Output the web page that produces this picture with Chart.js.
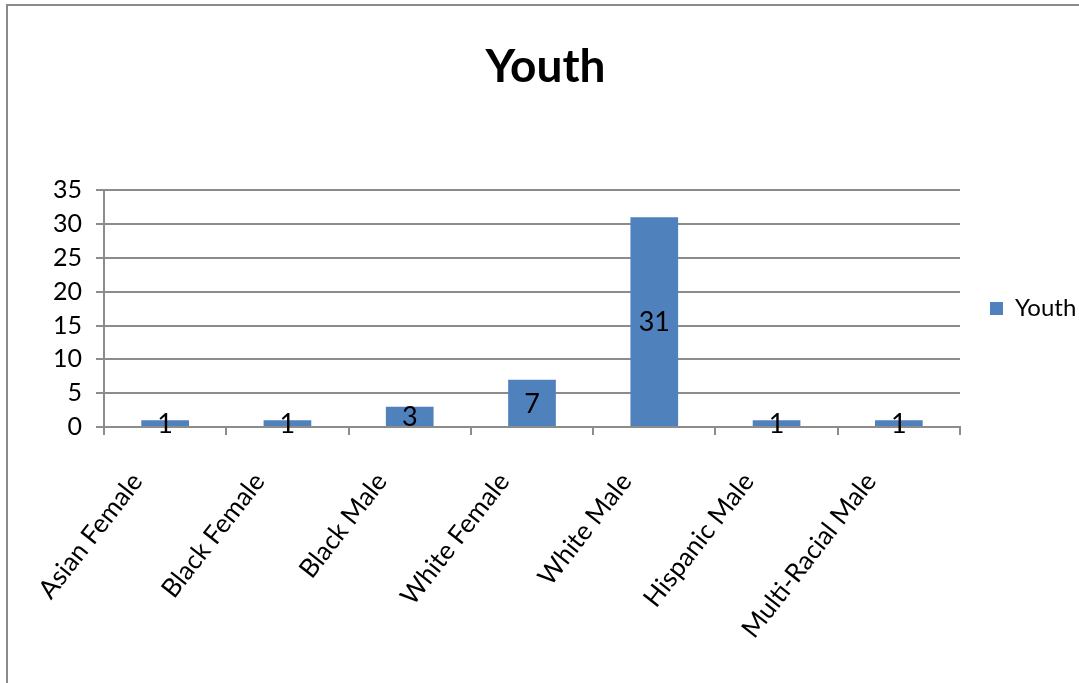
<!DOCTYPE html>
<html>
<head>
<meta charset="utf-8">
<script src="https://cdn.jsdelivr.net/npm/chart.js@4.4.1/dist/chart.umd.min.js"></script>
<style>
  html, body { margin: 0; padding: 0; background: #fff; overflow: hidden; }
  #wrap { position: relative; width: 1079px; height: 683px; }
  #frame {
    position: absolute; left: 6px; top: 4px; width: 1200px; height: 800px;
    border: 2px solid #8a8a8a; box-sizing: border-box;
  }
  canvas { position: absolute; left: 0; top: 0; }
</style>
</head>
<body>
<div id="wrap">
  <div id="frame"></div>
  <canvas id="chart" width="1079" height="683"></canvas>
</div>
<script>
'use strict';

// ─── Data ─────────────────────────────────────────────────────────────────────

const categories = [
  'Asian Female',
  'Black Female',
  'Black Male',
  'White Female',
  'White Male',
  'Hispanic Male',
  'Multi-Racial Male',
];
const youthValues = [1, 1, 3, 7, 31, 1, 1];
const yTicks = [0, 5, 10, 15, 20, 25, 30, 35];

const FONT = 'Lato, "Open Sans", sans-serif';
const AXIS_GRAY = '#8c8c8c';

// ─── Value labels centred in each bar ────────────────────────────────────────

const barLabels = {
  id: 'barLabels',
  afterDatasetsDraw(chart) {
    const { ctx } = chart;
    const meta = chart.getDatasetMeta(0);
    ctx.save();
    ctx.font = `27px ${FONT}`;
    ctx.fillStyle = '#000';
    ctx.textAlign = 'center';
    ctx.textBaseline = 'middle';
    meta.data.forEach((bar, i) => {
      const { x, y, base } = bar.getProps(['x', 'y', 'base'], true);
      ctx.fillText(String(youthValues[i]), x, (y + base) / 2 + 1);
    });
    ctx.restore();
  },
};

// ─── Chart ────────────────────────────────────────────────────────────────────

new Chart(document.getElementById('chart').getContext('2d'), {
  type: 'bar',
  data: {
    labels: categories,
    datasets: [
      {
        label: 'Youth',
        data: youthValues,
        backgroundColor: '#4f81bd',
        borderWidth: 0,
        barPercentage: 0.39,
        categoryPercentage: 1,
      },
    ],
  },
  options: {
    responsive: false,
    animation: false,
    layout: { padding: { left: 12, right: 0, top: 0, bottom: 0 } },
    plugins: {
      title: {
        display: true,
        text: 'Youth',
        color: '#000',
        font: { family: FONT, size: 46, weight: 'bold' },
        padding: { top: 40, bottom: 95 },
      },
      legend: {
        position: 'right',
        fullSize: false,
        maxWidth: 119,
        labels: {
          color: '#000',
          font: { family: FONT, size: 24 },
          boxWidth: 13,
          boxHeight: 13,
          padding: 30,
        },
      },
      tooltip: { enabled: false },
    },
    scales: {
      x: {
        afterFit: (s) => { s.height = 256; },
        grid: {
          offset: true,
          drawOnChartArea: false,
          drawTicks: true,
          tickLength: 8,
          color: AXIS_GRAY,
          lineWidth: 2,
        },
        border: { display: true, color: AXIS_GRAY, width: 2 },
        ticks: {
          color: '#000',
          font: { family: FONT, size: 26 },
          minRotation: 52,
          maxRotation: 52,
          autoSkip: false,
          padding: 32,
          labelOffset: -28,
        },
      },
      y: {
        min: 0,
        max: 35,
        afterFit: (s) => { s.width = 92; },
        afterBuildTicks: (s) => { s.ticks = yTicks.map((v) => ({ value: v })); },
        grid: {
          drawTicks: true,
          tickLength: 8,
          color: AXIS_GRAY,
          lineWidth: 2,
        },
        border: { display: true, color: AXIS_GRAY, width: 2 },
        ticks: {
          color: '#000',
          font: { family: FONT, size: 25 },
          padding: 14,
        },
      },
    },
  },
  plugins: [barLabels],
});
</script>
</body>
</html>
